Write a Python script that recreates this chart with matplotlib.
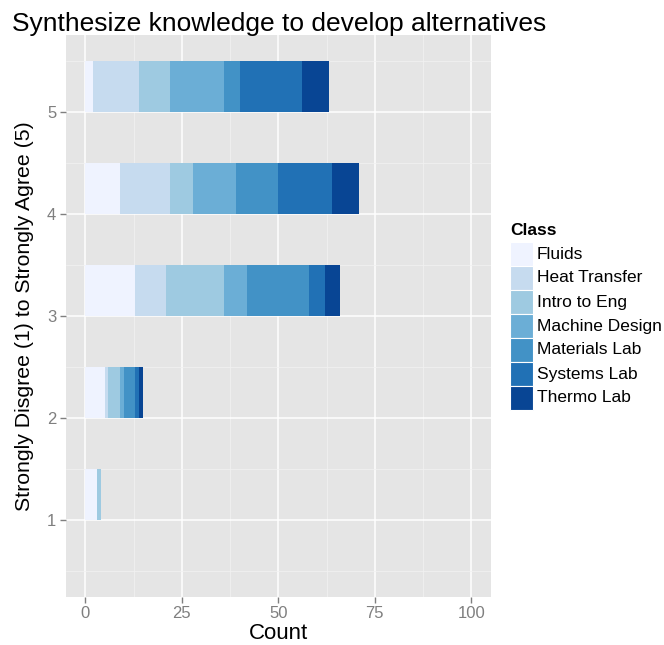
import numpy as np
from matplotlib import pyplot as plt
from matplotlib.patches import Rectangle

# 评分等级 1-5, 各课程人数.
levels = [1, 2, 3, 4, 5]
classes = ['Fluids', 'Heat Transfer', 'Intro to Eng', 'Machine Design',
           'Materials Lab', 'Systems Lab', 'Thermo Lab']
fluids = [3, 5, 13, 9, 2]
heat_transfer = [0, 1, 8, 13, 12]
intro_eng = [1, 3, 15, 6, 8]
machine_design = [0, 1, 6, 11, 14]
materials_lab = [0, 3, 16, 11, 4]
systems_lab = [0, 1, 4, 14, 16]
thermo_lab = [0, 1, 4, 7, 7]
colors = ['#EFF3FF', '#C6DBEF', '#9ECAE1', '#6BAED6',
          '#4292C6', '#2171B5', '#084594']

series = [fluids, heat_transfer, intro_eng, machine_design,
          materials_lab, systems_lab, thermo_lab]

plt.rcParams['font.family'] = ['Liberation Sans', 'DejaVu Sans']

W, H = 664, 645
fig = plt.figure(figsize=(W / 100, H / 100), dpi=100)
ax = fig.add_axes([66 / W, 1 - 596.7 / H, 424.7 / W, 561.7 / H])
ax.set_facecolor('#E5E5E5')

# 堆叠条形图.
left = np.zeros(len(levels))
for vals, c in zip(series, colors):
    ax.barh(levels, vals, left=left, height=0.5, align='edge',
            color=c, linewidth=0, zorder=3)
    left += np.array(vals)

ax.set_xlim(-5, 105)
ax.set_ylim(0.25, 5.75)
ax.set_xticks([0, 25, 50, 75, 100])
ax.set_xticks([12.5, 37.5, 62.5, 87.5], minor=True)
ax.set_yticks(levels)
ax.set_yticks([0.5, 1.5, 2.5, 3.5, 4.5, 5.5], minor=True)

# 网格线.
ax.grid(which='major', color='white', linewidth=1.1, zorder=1)
ax.grid(which='minor', color='#F2F2F2', linewidth=0.5, zorder=1)
ax.set_axisbelow(True)
for s in ax.spines.values():
    s.set_visible(False)

ax.tick_params(axis='both', which='major', labelsize=12, colors='#7F7F7F',
               length=4, width=1, pad=3)
ax.tick_params(axis='both', which='minor', length=0)

ax.set_xlabel('Count', fontsize=16, labelpad=1)
ax.set_ylabel('Strongly Disgree (1) to Strongly Agree (5)', fontsize=15.3,
              labelpad=9)
fig.text(12 / W, 1 - 31 / H, 'Synthesize knowledge to develop alternatives',
         fontsize=19, ha='left', va='baseline')

# 图例, 手动画色块.
fig.text(510 / W, 1 - 231 / H, 'Class', fontsize=12.5, fontweight='bold',
         ha='left', va='center')
for i, (name, c) in enumerate(zip(classes, colors)):
    y0 = 242 + 24 * i
    fig.patches.append(Rectangle((510 / W, 1 - (y0 + 24) / H), 23 / W, 24 / H,
                                 transform=fig.transFigure, facecolor=c,
                                 edgecolor='white', linewidth=0.8))
    fig.text(537 / W, 1 - (y0 + 12) / H, name, fontsize=12.5,
             ha='left', va='center')

fig.savefig('out.png', dpi=100)
